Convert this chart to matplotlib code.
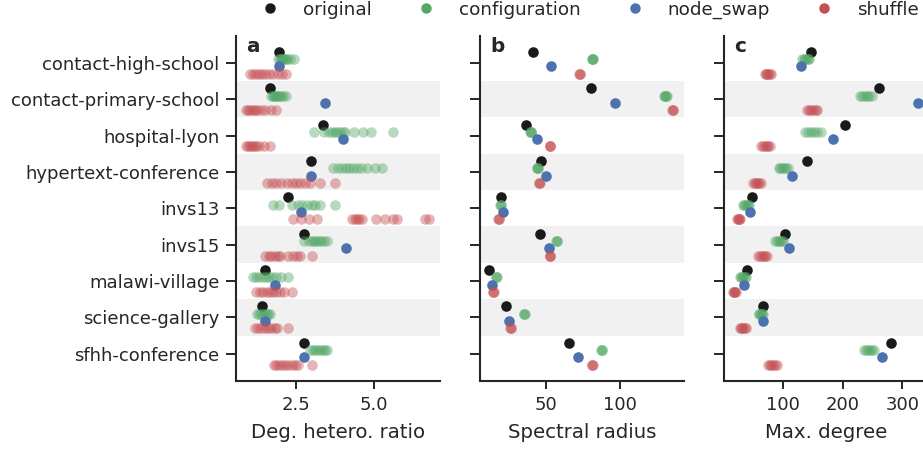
import matplotlib
matplotlib.use("Agg")
import matplotlib.pyplot as plt
from matplotlib.lines import Line2D

datasets = ["contact-high-school", "contact-primary-school", "hospital-lyon",
            "hypertext-conference", "invs13", "invs15", "malawi-village",
            "science-gallery", "sfhh-conference"]
methods = ["original", "configuration", "node_swap", "shuffle"]
colors = {"original": "#1a1a1a", "configuration": "#55A868",
          "node_swap": "#4C72B0", "shuffle": "#C44E52"}
alphas = {"original": 1.0, "configuration": 0.42, "node_swap": 1.0, "shuffle": 0.42}

# ---- Panel a: degree heterogeneity ratio
hetero_original = [1.93, 1.64, 3.36, 2.98, 2.25, 2.74, 1.50, 1.40, 2.76]
hetero_node_swap = [1.93, 3.42, 4.02, 2.98, 2.65, 4.11, 1.80, 1.50, 2.76]
hetero_configuration = [
    [1.91, 1.97, 2.02, 2.05, 2.08, 2.12, 2.16, 2.20, 2.30, 2.44],
    [1.69, 1.74, 1.78, 1.82, 1.86, 1.90, 1.95, 2.00, 2.08, 2.18],
    [3.06, 3.38, 3.54, 3.66, 3.74, 3.82, 3.90, 4.00, 4.08, 4.36, 4.64, 4.91, 5.61],
    [3.70, 3.86, 3.98, 4.10, 4.20, 4.32, 4.45, 4.58, 4.77, 5.04, 5.26],
    [1.75, 1.93, 2.36, 2.55, 2.70, 2.85, 3.00, 3.12, 3.27, 3.75],
    [2.76, 2.90, 3.00, 3.08, 3.15, 3.22, 3.30, 3.38, 3.49],
    [1.11, 1.20, 1.30, 1.42, 1.52, 1.62, 1.72, 1.85, 2.00, 2.25],
    [1.24, 1.30, 1.36, 1.42, 1.48, 1.55, 1.60, 1.66],
    [2.95, 3.05, 3.12, 3.20, 3.28, 3.35, 3.42, 3.49],
]
hetero_shuffle = [
    [1.00, 1.10, 1.20, 1.30, 1.40, 1.50, 1.62, 1.75, 1.90, 2.05, 2.17],
    [0.88, 0.95, 1.02, 1.10, 1.18, 1.25, 1.35, 1.50, 1.68, 1.86],
    [0.88, 0.95, 1.02, 1.08, 1.14, 1.20, 1.30, 1.45, 1.64],
    [1.56, 1.72, 1.85, 2.00, 2.20, 2.35, 2.50, 2.62, 2.78, 2.95, 3.27, 3.75],
    [2.39, 2.65, 2.90, 3.18, 4.29, 4.38, 4.45, 4.52, 4.61, 5.06, 5.36, 5.63, 5.74, 6.65, 6.79],
    [1.50, 1.61, 1.70, 1.80, 1.90, 1.99, 2.25, 2.40, 2.52, 2.63, 3.00],
    [1.21, 1.32, 1.42, 1.55, 1.65, 1.75, 1.85, 1.98, 2.12, 2.36],
    [1.18, 1.28, 1.38, 1.48, 1.58, 1.70, 1.80, 1.88, 2.23],
    [1.77, 1.85, 1.95, 2.05, 2.15, 2.25, 2.35, 2.45, 2.57, 3.00],
]

# ---- Panel b: spectral radius
radius_original = [41.0, 80.5, 36.7, 46.6, 19.5, 46.0, 11.7, 23.3, 65.5]
radius_node_swap = [53.6, 96.6, 43.9, 50.2, 21.1, 52.0, 13.9, 25.3, 71.3]
radius_configuration = [
    [80.8, 81.1, 81.3, 81.6],
    [129.4, 129.9, 130.3, 130.8, 131.2],
    [39.3, 39.6, 39.9, 40.2],
    [43.8, 44.1, 44.4, 44.7],
    [19.2, 19.5, 19.8],
    [56.9, 57.2, 57.5],
    [16.1, 16.4, 16.7],
    [35.1, 35.4, 35.7],
    [87.0, 87.4, 87.8],
]
radius_shuffle = [
    [72.2, 72.6, 73.0],
    [134.8, 135.2, 135.6],
    [52.4, 52.7, 53.0],
    [45.2, 45.5, 45.8],
    [17.9, 18.2, 18.5],
    [52.4, 52.7, 53.0],
    [14.3, 14.6, 14.9],
    [26.0, 26.3, 26.6],
    [80.8, 81.2, 81.6],
]

# ---- Panel c: max degree
degree_original = [148, 261, 204, 140, 48, 104, 40, 67, 281]
degree_node_swap = [131, 327, 184, 115, 45, 110, 35, 66.5, 266]
degree_configuration = [
    [133, 136, 138, 140, 142, 144],
    [229, 233, 237, 241, 245, 250],
    [138, 143, 148, 153, 158, 164],
    [93, 96, 99, 102, 105, 109],
    [33, 35, 37, 40, 42, 44],
    [87, 90, 93, 96, 98, 101],
    [28, 30, 32, 34, 36, 38],
    [60, 61, 63, 64, 66, 67],
    [236, 239, 243, 246, 250, 253],
]
degree_shuffle = [
    [70, 72, 74, 76, 78, 81],
    [141, 144, 148, 151, 155, 158],
    [64, 67, 70, 73, 76, 79],
    [51, 54, 56, 59, 61, 64],
    [24, 25, 26, 27, 28],
    [59, 62, 65, 68, 70, 73],
    [17, 18, 19, 20, 21],
    [28, 30, 32, 34, 36, 38],
    [75, 78, 81, 84, 87, 90],
]

panels = [
    ("a", "Deg. hetero. ratio", hetero_original, hetero_configuration,
     hetero_node_swap, hetero_shuffle, (0.56, 7.13), [2.5, 5.0], ["2.5", "5.0"]),
    ("b", "Spectral radius", radius_original, radius_configuration,
     radius_node_swap, radius_shuffle, (5.6, 142.8), [50, 100], ["50", "100"]),
    ("c", "Max. degree", degree_original, degree_configuration,
     degree_node_swap, degree_shuffle, (1.7, 343.0), [100, 200, 300], ["100", "200", "300"]),
]

offsets = {"original": -0.3, "configuration": -0.1, "node_swap": 0.1, "shuffle": 0.3}

text_color = "#262626"
plt.rcParams["font.family"] = ["DejaVu Sans"]
plt.rcParams["text.color"] = text_color
plt.rcParams["axes.labelcolor"] = text_color
plt.rcParams["xtick.color"] = text_color
plt.rcParams["ytick.color"] = text_color

W, H = 923, 454
fig = plt.figure(figsize=(W / 100, H / 100), dpi=100)

lefts = [236, 480, 724]
ax_w = 204
ax_bottom = 381
ax_h = 345.5

for i, (letter, xlabel, orig, conf, nsw, shuf, xlim, xt, xtl) in enumerate(panels):
    ax = fig.add_axes([lefts[i] / W, 1 - ax_bottom / H, ax_w / W, ax_h / H])
    for r in range(len(datasets)):
        if r % 2 == 1:
            ax.axhspan(r - 0.5, r + 0.5, color="#f1f1f1", zorder=0, lw=0)
    series = {"original": [[v] for v in orig], "configuration": conf,
              "node_swap": [[v] for v in nsw], "shuffle": shuf}
    z = 2
    for m in methods:
        xs, ys = [], []
        for r, vals in enumerate(series[m]):
            for v in vals:
                xs.append(v)
                ys.append(r + offsets[m])
        ax.scatter(xs, ys, s=58, color=colors[m], alpha=alphas[m], lw=0, zorder=z)
        z += 1
    ax.set_ylim(len(datasets) - 1 + 0.75, -0.75)
    ax.set_xlim(*xlim)
    ax.set_yticks(range(len(datasets)))
    if i == 0:
        ax.set_yticklabels(datasets, fontsize=13.0)
    else:
        ax.set_yticklabels([])
    ax.set_xticks(xt)
    ax.set_xticklabels(xtl, fontsize=13.0)
    ax.set_xlabel(xlabel, fontsize=14.2, labelpad=7)
    for s in ["top", "right"]:
        ax.spines[s].set_visible(False)
    for s in ["left", "bottom"]:
        ax.spines[s].set_linewidth(1.5)
        ax.spines[s].set_color(text_color)
    ax.tick_params(axis="y", length=7, width=1.4, pad=5)
    ax.tick_params(axis="x", length=5.5, width=1.4, pad=5)
    ax.text(0.05, 0.967, letter, transform=ax.transAxes, fontsize=14.4,
            fontweight="bold", ha="left", va="center")

handles = [Line2D([], [], marker="o", ls="", color=colors[m], markersize=6.5)
           for m in methods]
fig.legend(handles, methods, loc="center left", ncol=4, frameon=False,
           bbox_to_anchor=(260.8 / W, 1 - 10 / H), fontsize=13.2,
           handlelength=1.0, handletextpad=1.3, columnspacing=2.45,
           borderpad=0, borderaxespad=0)

fig.savefig("out.png", dpi=100)
